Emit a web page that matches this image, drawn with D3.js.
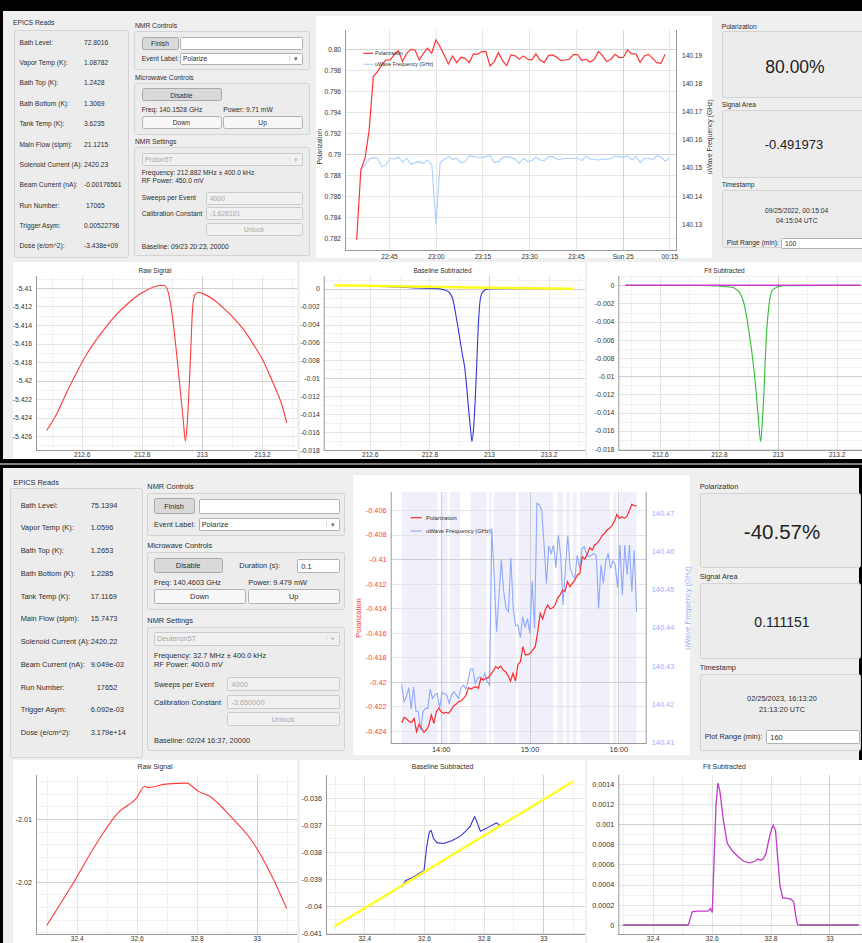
<!DOCTYPE html>
<html><head><meta charset="utf-8">
<script src="https://cdn.jsdelivr.net/npm/d3@7"></script>
<style>body{margin:0;background:#fff}svg{display:block}</style>
</head><body>
<svg id="c" width="862" height="943"></svg>
<script>
// ================= DATA =================
const epicsLabels=["Bath Level:","Vapor Temp (K):","Bath Top (K):","Bath Bottom (K):","Tank Temp (K):","Main Flow (slpm):","Solenoid Current (A):","Beam Current (nA):","Run Number:","Trigger Asym:","Dose (e/cm^2):"];
const epicsValuesA=["72.8016","1.08782","1.2428","1.3069","3.6235","21.1215","2420.23","-0.00176561","17065","0.00522796","-3.438e+09"];
const epicsValuesB=["75.1394","1.0596","1.2653","1.2285","17.1169","15.7473","2420.22","9.049e-03","17652","6.092e-03","3.179e+14"];

// --- top screenshot, polarization history ---
const polStartA="2022-09-24 22:34:37", freqStartA="2022-09-24 22:36:00", sampleSecA=80.3;
const polValuesA=[0.78184,0.78851,0.78962,0.79232,0.79740,0.79787,0.79851,0.79898,0.79898,0.79946,0.79987,0.79883,0.79962,0.80000,0.79994,0.79898,0.79962,0.80010,0.79962,0.80089,0.80025,0.79946,0.79860,0.79937,0.79873,0.79924,0.79914,0.79873,0.79956,0.79952,0.79978,0.79978,0.79841,0.79883,0.79968,0.79892,0.79844,0.79946,0.79937,0.79905,0.79937,0.79905,0.79898,0.79956,0.79898,0.79873,0.79940,0.79946,0.79924,0.79892,0.79898,0.79905,0.79949,0.79949,0.79892,0.79905,0.79879,0.79905,0.79978,0.79937,0.79883,0.79905,0.79952,0.79921,0.79924,0.79994,0.79956,0.79956,0.79873,0.79937,0.79952,0.79914,0.79873,0.79867,0.79952];
const freqValuesA=[140.14949,140.15103,140.15317,140.15365,140.15341,140.15044,140.15103,140.15341,140.15317,140.15377,140.15198,140.15341,140.15127,140.15187,140.15222,140.15163,140.15282,140.15103,140.12989,140.15187,140.15305,140.15400,140.15305,140.15341,140.15187,140.15222,140.15424,140.15400,140.15377,140.15365,140.15400,140.15436,140.15198,140.15222,140.15365,140.15400,140.15365,140.15305,140.15163,140.15341,140.15222,140.15258,140.15377,140.15282,140.15258,140.15400,140.15400,140.15305,140.15305,140.15341,140.15341,140.15341,140.15341,140.15258,140.15424,140.15305,140.15305,140.15282,140.15305,140.15305,140.15341,140.15424,140.15400,140.15365,140.15436,140.15282,140.15400,140.15187,140.15341,140.15341,140.15282,140.15436,140.15377,140.15246,140.15341];
const timeDomainA=["2022-09-24 22:30:52","2022-09-25 00:17:28"];
const timeTicksA=["2022-09-24 22:45:00","2022-09-24 23:00:00","2022-09-24 23:15:00","2022-09-24 23:30:00","2022-09-24 23:45:00","2022-09-25 00:00:00","2022-09-25 00:15:00"];
const timeTickLabelsA=["22:45","23:00","23:15","23:30","23:45","Sun 25","00:15"];
const polTicksA=[0.782,0.784,0.786,0.788,0.790,0.792,0.794,0.796,0.798,0.800];
const polTickLabelsA=["0.782","0.784","0.786","0.788","0.79","0.792","0.794","0.796","0.798","0.80"];
const freqTicksA=[140.13,140.14,140.15,140.16,140.17,140.18,140.19];

// --- bottom screenshot, polarization history ---
const polStartB="2023-02-25 13:33:38", sampleSecPolB=100.3;
const freqStartB="2023-02-25 13:33:38", sampleSecFreqB=96.2;
const polValuesB=[-0.42332,-0.42289,-0.42302,-0.42324,-0.42329,-0.42297,-0.42405,-0.42346,-0.42378,-0.42411,-0.42392,-0.42351,-0.42270,-0.42338,-0.42243,-0.42215,-0.42243,-0.42256,-0.42248,-0.42256,-0.42229,-0.42194,-0.42183,-0.42161,-0.42156,-0.42134,-0.42107,-0.42047,-0.42058,-0.42047,-0.42039,-0.42053,-0.41971,-0.41985,-0.41971,-0.41966,-0.41939,-0.41911,-0.41876,-0.41890,-0.41871,-0.41903,-0.41917,-0.41949,-0.41993,-0.41930,-0.41993,-0.41857,-0.41835,-0.41713,-0.41781,-0.41776,-0.41767,-0.41740,-0.41713,-0.41591,-0.41442,-0.41488,-0.41414,-0.41374,-0.41406,-0.41396,-0.41374,-0.41319,-0.41292,-0.41252,-0.41265,-0.41184,-0.41224,-0.41197,-0.41170,-0.41129,-0.41116,-0.40980,-0.40999,-0.40961,-0.40907,-0.40926,-0.40885,-0.40872,-0.40844,-0.40809,-0.40790,-0.40763,-0.40749,-0.40728,-0.40690,-0.40635,-0.40668,-0.40654,-0.40668,-0.40654,-0.40608,-0.40554,-0.40565,-0.40565];
const freqValuesB=[140.42508,140.42053,140.42184,140.42421,140.41860,140.42447,140.41808,140.41790,140.41309,140.41790,140.41878,140.41878,140.42386,140.42140,140.42228,140.42272,140.41878,140.42298,140.42272,140.42228,140.42009,140.42228,140.42316,140.42228,140.42140,140.42421,140.42491,140.42386,140.42622,140.42911,140.42911,140.42534,140.42666,140.42710,140.42622,140.42797,140.42596,140.42491,140.46606,140.45293,140.43892,140.44837,140.45774,140.44942,140.44505,140.44417,140.45835,140.44505,140.44049,140.44067,140.43734,140.44286,140.43997,140.44242,140.43848,140.45223,140.43979,140.47263,140.47219,140.47088,140.46168,140.45161,140.46142,140.45949,140.46168,140.45573,140.46431,140.45888,140.44592,140.45573,140.46413,140.45573,140.45380,140.45293,140.45905,140.45555,140.46081,140.46124,140.45905,140.45862,140.45905,140.45949,140.45888,140.44505,140.45643,140.45161,140.45730,140.45949,140.45555,140.45748,140.45643,140.45047,140.46168,140.44855,140.46168,140.45380,140.46168,140.44942,140.46037,140.44417];
const bandsB=[["13:33:38","13:57:40"],["14:00:00","14:04:30"],["14:06:20","14:13:00"],["14:20:20","14:31:00"],["14:32:50","14:34:25"],["14:36:00","14:50:50"],["14:52:30","15:16:05"],["15:18:50","15:22:50"],["15:24:40","15:27:25"],["15:29:10","15:31:50"],["15:34:10","15:54:25"],["15:56:40","15:58:55"],["16:00:40","16:12:24"]];
const timeDomainB=["2023-02-25 13:26:12","2023-02-25 16:19:12"];
const timeTicksB=["2023-02-25 14:00:00","2023-02-25 15:00:00","2023-02-25 16:00:00"];
const timeTickLabelsB=["14:00","15:00","16:00"];
const polTicksB=[-0.424,-0.422,-0.420,-0.418,-0.416,-0.414,-0.412,-0.410,-0.408,-0.406];
const polTickLabelsB=["-0.424","-0.422","-0.42","-0.418","-0.416","-0.414","-0.412","-0.41","-0.408","-0.406"];
const freqTicksB=[140.41,140.42,140.43,140.44,140.45,140.46,140.47];

// --- top screenshot NMR signals (MHz) ---
const rawFreqA=[212.4835,212.5167,212.55,212.5833,212.6165,212.6498,212.683,212.716,212.750,212.783,212.816,212.849,212.872,212.883,212.894,212.905,212.916,212.927,212.938,212.945,212.951,212.958,212.964,212.969,212.977,212.988,213.005,213.038,213.071,213.105,213.138,213.171,213.204,213.238,213.265,213.282];
const rawSigA=[-5.42539,-5.42360,-5.42128,-5.41913,-5.41716,-5.41555,-5.41412,-5.41286,-5.41179,-5.41090,-5.41025,-5.40979,-5.40971,-5.41000,-5.41143,-5.41394,-5.41716,-5.42074,-5.42432,-5.42654,-5.42468,-5.42038,-5.41573,-5.41215,-5.41072,-5.41047,-5.41064,-5.41125,-5.41215,-5.41322,-5.41448,-5.41609,-5.41788,-5.42038,-5.42253,-5.42457];
const blFreqA=[212.482,212.6,212.7508,212.829,212.8513,212.8681,212.8792,212.8904,212.9016,212.9105,212.9184,212.9262,212.9329,212.9385,212.9429,212.9485,212.9541,212.9597,212.9642,212.9687,212.9742,212.9832,212.9966,213.0189,213.282];
const blSigA=[0.00037,0.00030,0.00008,0,-0.000144,-0.000477,-0.001216,-0.003248,-0.005465,-0.007313,-0.008791,-0.011377,-0.013964,-0.01581,-0.01703,-0.015442,-0.012116,-0.007682,-0.003987,-0.00177,-0.000662,-0.000218,-0.00003,0,-0.00002];
const blFitFreqA=[212.482,212.882,213.282];
const blFitA=[0.00037,0.00015,-0.00002];
const fitFreqA=[212.482,212.75,212.8434,212.8603,212.8773,212.8886,212.8999,212.9113,212.9192,212.926,212.9316,212.9362,212.9418,212.9475,212.9531,212.9577,212.9622,212.9679,212.9735,212.9815,212.9962,213.0188,213.282];
const fitSigA=[0,-0.00002,-0.000222,-0.000477,-0.001206,-0.002481,-0.004667,-0.007217,-0.009402,-0.011588,-0.013774,-0.015596,-0.017162,-0.014867,-0.011588,-0.007945,-0.005031,-0.002845,-0.001388,-0.00055,-0.000222,-0.00004,0];
const fitResFreqA=[212.482,213.282];
const fitResA=[0,0];

// --- bottom screenshot NMR signals (MHz) ---
const rawFreqB=[32.3,32.383,32.466,32.539,32.600,32.626,32.640,32.695,32.769,32.778,32.806,32.843,32.916,32.990,33.045,33.1];
const rawSigB=[-2.02695,-2.02062,-2.01389,-2.00896,-2.00663,-2.00482,-2.00497,-2.00445,-2.00429,-2.00456,-2.0056,-2.00638,-2.00974,-2.01389,-2.01855,-2.02426];
const blFreqB=[32.525,32.538,32.562,32.590,32.600,32.609,32.618,32.624,32.632,32.643,32.665,32.693,32.722,32.740,32.755,32.763,32.770,32.778,32.789,32.806,32.825,32.843,32.856];
const blSigB=[-0.03931,-0.03907,-0.03895,-0.03875,-0.03871,-0.03781,-0.03726,-0.03721,-0.03751,-0.03766,-0.03769,-0.03759,-0.03742,-0.03723,-0.03706,-0.03685,-0.03670,-0.03690,-0.03724,-0.03715,-0.03703,-0.03693,-0.03703];
const blFitFreqB=[32.3,33.1];
const blFitB=[-0.04076,-0.0354];
const fitFreqB=[32.3,32.521,32.534,32.549,32.587,32.596,32.602,32.609,32.615,32.621,32.628,32.640,32.653,32.672,32.691,32.709,32.728,32.747,32.757,32.766,32.775,32.785,32.794,32.804,32.809,32.817,32.823,32.832,32.842,32.855,32.870,32.879,32.885,32.892,33.1];
const fitResB=[0,0,0.00013,0.000136,0.000136,0.000162,0.000123,0.000713,0.001199,0.00141,0.001329,0.001037,0.00081,0.000729,0.000674,0.000632,0.000616,0.000632,0.000655,0.000642,0.000655,0.000713,0.000843,0.000956,0.000989,0.00094,0.000713,0.000389,0.000266,0.000266,0.000253,0.000227,0.0000972,0,0];
// fit curve (flat, shown only in the wings; null = gap)
const fitLineFreqB=[32.3,32.52,32.53,32.89,32.9,33.1];
const fitLineB=[-0.000004,-0.000004,null,null,-0.000004,-0.000004];

// ================= DRAWING =================
const FF="'Liberation Sans',Arial,sans-serif";
const parse=d3.timeParse("%Y-%m-%d %H:%M:%S");
const svg=d3.select("#c");
let clipN=0;
function T(x,y,s,o){o=o||{};const t=svg.append("text").attr("x",x).attr("y",y).attr("font-family",FF)
  .attr("font-size",o.fs||7).attr("fill",o.fill||"#2e2e2e").attr("text-anchor",o.a||"start")
  .attr("dominant-baseline","central").text(s);if(o.rot!==undefined)t.attr("transform",`rotate(${o.rot},${x},${y})`);return t;}
function R(x0,y0,x1,y1,fill,stroke,rx){const r=svg.append("rect").attr("fill",fill).attr("rx",rx||0);
  if(stroke){r.attr("x",Math.round(x0)+0.5).attr("y",Math.round(y0)+0.5).attr("width",Math.round(x1-x0)).attr("height",Math.round(y1-y0)).attr("stroke",stroke);}
  else{r.attr("x",x0).attr("y",y0).attr("width",x1-x0).attr("height",y1-y0);}return r;}
function groupBox(x0,y0,x1,y1){R(x0,y0,x1,y1,"#ececec","#d3d3d3",2);}
function button(x0,y0,x1,y1,label,fs,kind){
  const st={dark:["#d9d9d9","#a9a9a9","#2e2e2e"],light:["#f7f7f7","#b3b3b3","#2e2e2e"],off:["#f1f1f1","#cbcbcb","#a9a9a9"]}[kind];
  R(x0,y0,x1,y1,st[0],st[1],2);T((x0+x1)/2,(y0+y1)/2+0.5,label,{fs:fs,a:"middle",fill:st[2]});}
function input(x0,y0,x1,y1,text,fs,off){R(x0,y0,x1,y1,off?"#f0f0f0":"#ffffff",off?"#cbcbcb":"#b1b1b1",1);
  if(text)T(x0+4,(y0+y1)/2+0.5,text,{fs:fs,fill:off?"#a8a8a8":"#2e2e2e"});}
function combo(x0,y0,x1,y1,text,fs,off){R(x0,y0,x1,y1,off?"#f0f0f0":"#ffffff",off?"#cbcbcb":"#b1b1b1",1);
  T(x0+3,(y0+y1)/2+0.5,text,{fs:fs,fill:off?"#a8a8a8":"#2e2e2e"});
  svg.append("line").attr("x1",x1-12.5).attr("x2",x1-12.5).attr("y1",y0+3).attr("y2",y1-3).attr("stroke",off?"#e0e0e0":"#d6d6d6");
  T(x1-6,(y0+y1)/2+0.5,"▾",{fs:fs,a:"middle",fill:off?"#c0c0c0":"#666"});}

function clipG(x0,y0,x1,y1){const id="cl"+(clipN++);
  svg.append("clipPath").attr("id",id).append("rect").attr("x",x0).attr("y",y0).attr("width",x1-x0).attr("height",y1-y0);
  return svg.append("g").attr("clip-path",`url(#${id})`);}
function hLines(g,y,vals,x0,x1,c){g.selectAll(null).data(vals).join("line").attr("x1",x0).attr("x2",x1)
  .attr("y1",d=>Math.round(y(d))+0.5).attr("y2",d=>Math.round(y(d))+0.5).attr("stroke",c);}
function vLines(g,x,vals,y0,y1,c){g.selectAll(null).data(vals).join("line").attr("y1",y0).attr("y2",y1)
  .attr("x1",d=>Math.round(x(d))+0.5).attr("x2",d=>Math.round(x(d))+0.5).attr("stroke",c);}
function stepVals(dom,step){const lo=Math.min(dom[0],dom[1]),hi=Math.max(dom[0],dom[1]);const out=[];
  for(let k=Math.ceil(lo/step-1e-9);k*step<=hi+1e-12;k++)out.push(+(k*step).toFixed(10));return out;}
function axisLeft(x,y,vals,labels,fs,col){const g=svg.append("g").attr("transform",`translate(${x},0)`)
  .call(d3.axisLeft(y).tickValues(vals).tickFormat((d,i)=>labels[i]).tickSize(0).tickPadding(4));
  g.select(".domain").remove();g.selectAll("text").attr("font-family",FF).attr("font-size",fs).attr("fill",col||"#333");return g;}
function axisRight(x,y,vals,labels,fs,col){const g=svg.append("g").attr("transform",`translate(${x},0)`)
  .call(d3.axisRight(y).tickValues(vals).tickFormat((d,i)=>labels[i]).tickSize(0).tickPadding(5));
  g.select(".domain").remove();g.selectAll("text").attr("font-family",FF).attr("font-size",fs).attr("fill",col||"#333");return g;}
function axisBottom(y,x,vals,labels,fs,col){const g=svg.append("g").attr("transform",`translate(0,${y})`)
  .call(d3.axisBottom(x).tickValues(vals).tickFormat((d,i)=>labels[i]).tickSize(0).tickPadding(3));
  g.select(".domain").remove();g.selectAll("text").attr("font-family",FF).attr("font-size",fs).attr("fill",col||"#333");return g;}
function axLine(x1,y1,x2,y2){svg.append("line").attr("x1",x1).attr("y1",y1).attr("x2",x2).attr("y2",y2).attr("stroke","#9a9a9a").attr("stroke-width",1);}

// ---------- frame / backgrounds ----------
R(0,0,862,943,"#000");
R(3,11,862,459,"#efefef");
R(3,468,859,943,"#efefef");
R(0,463.5,862,464.5,"#ffffff");

// ---------- TOP screenshot UI ----------
const fa=6.7;
T(13,22.5,"EPICS Reads",{fs:fa});
groupBox(14,30,128,257);
epicsLabels.forEach((l,i)=>{const cy=42.3+20.34*i;T(19.5,cy,l,{fs:fa});
  T(i===8?86:84,cy,epicsValuesA[i],{fs:fa});});

T(135,25.5,"NMR Controls",{fs:fa});
groupBox(134,31,309,69);
button(142,37,178,48.5,"Finish",fa,"dark");
input(180,37,302,49,"",fa);
T(141.7,58.3,"Event Label:",{fs:fa});
combo(180,52.7,302,64,"Polarize",fa);
T(135,77.3,"Microwave Controls",{fs:fa});
groupBox(134,83,309,134);
button(142,88.3,220.7,100.7,"Disable",fa,"dark");
T(141.7,109,"Freq: 140.1528 GHz",{fs:fa});T(223.3,109,"Power: 9.71 mW",{fs:fa});
button(142,116,220.7,128.3,"Down",fa,"light");
button(223.3,116,302,128.3,"Up",fa,"light");
T(135,141.7,"NMR Settings",{fs:fa});
groupBox(134,147.3,309,255.7);
combo(142,152.7,302,164.3,"Proton5T",fa,true);
T(141.7,172.3,"Frequency: 212.882 MHz ± 400.0 kHz",{fs:fa});
T(141.7,180.7,"RF Power: 450.0 mV",{fs:fa});
T(141.7,197.7,"Sweeps per Event",{fs:fa});input(206,191.7,302,204,"4000",fa,true);
T(141.7,213.3,"Calibration Constant",{fs:fa});input(206,207.3,302,219.3,"-1.626101",fa,true);
button(206,222.7,302,234.3,"Unlock",fa,"off");
T(141.7,246,"Baseline: 09/23 20:23, 20000",{fs:fa});

T(721.7,26,"Polarization",{fs:fa});
groupBox(721.7,30.7,866,96.7);
T(795,66.7,"80.00%",{fs:17.5,a:"middle",fill:"#222"});
T(721.7,104.3,"Signal Area",{fs:fa});
groupBox(721.7,110,866,176.7);
T(794,144.3,"-0.491973",{fs:13,a:"middle",fill:"#222"});
T(721.7,184,"Timestamp",{fs:fa});
groupBox(721.7,190,866,246.7);
T(796.7,210,"09/25/2022, 00:15:04",{fs:fa,a:"middle"});
T(796.7,220,"04:15:04 UTC",{fs:fa,a:"middle"});
T(726.7,242.3,"Plot Range (min):",{fs:fa});
input(781,237.7,866,247.3,"100",fa);

// ---------- TOP polarization chart ----------
R(316,16,712,258,"#ffffff");
{
  const x=d3.scaleTime().domain(timeDomainA.map(parse)).range([345,677]);
  const yP=d3.scaleLinear().domain([0.78086,0.80184]).range([250,30]);
  const yF=d3.scaleLinear().domain([140.1207,140.19916]).range([250,30]);
  const g=clipG(345,30,677,250);
  hLines(g,yP,polTicksA,345,677,"#e6e6e6");
  hLines(g,yP,[0.79,0.80],345,677,"#d4d4d4");
  vLines(g,x,timeTicksA.map(parse),30,250,"#e6e6e6");
  vLines(g,x,[parse("2022-09-25 00:00:00")],30,250,"#d4d4d4");
  const t0=parse(polStartA).getTime(),t1=parse(freqStartA).getTime();
  const fpts=freqValuesA.map((v,i)=>[new Date(t1+i*sampleSecA*1000),v]);
  const ppts=polValuesA.map((v,i)=>[new Date(t0+i*sampleSecA*1000),v]);
  g.append("path").attr("d",d3.line().x(d=>x(d[0])).y(d=>yF(d[1]))(fpts)).attr("fill","none").attr("stroke","#a8d0ff").attr("stroke-width",1.1);
  g.append("path").attr("d",d3.line().x(d=>x(d[0])).y(d=>yP(d[1]))(ppts)).attr("fill","none").attr("stroke","#ff3434").attr("stroke-width",1.2);
  axLine(345.5,30,345.5,250.5);axLine(676.5,30,676.5,250.5);axLine(345,250.5,677,250.5);
  axisLeft(345,yP,polTicksA,polTickLabelsA,6.6);
  axisRight(677,yF,freqTicksA,freqTicksA.map(d=>d.toFixed(2)),6.6);
  axisBottom(251,x,timeTicksA.map(parse),timeTickLabelsA,6.6);
  T(320,146.7,"Polarization",{fs:6.8,a:"middle",rot:-90});
  T(710,136.7,"uWave Frequency (GHz)",{fs:6.8,a:"middle",rot:-90});
  svg.append("line").attr("x1",363.3).attr("x2",373.3).attr("y1",53.3).attr("y2",53.3).attr("stroke","#ff3434").attr("stroke-width",1.2);
  T(375,53.3,"Polarization",{fs:5.3});
  svg.append("line").attr("x1",363.3).attr("x2",373.3).attr("y1",64.3).attr("y2",64.3).attr("stroke","#a8d0ff").attr("stroke-width",1.1);
  T(375,64.3,"uWave Frequency (GHz)",{fs:5.3});
}

// ---------- signal chart helper ----------
function sigChart(c){
  R(c.px0,c.py0,c.px1,c.py1,"#ffffff");
  T((c.px0+c.px1)/2,c.titleY,c.title,{fs:c.tfs,a:"middle"});
  const x=d3.scaleLinear().domain(c.xd).range([c.x0,c.x1]);
  const y=d3.scaleLinear().domain(c.yd).range([c.y1,c.y0]);
  const right=Math.min(c.x1,c.px1);
  const g=clipG(c.x0,c.y0,right,c.y1);
  hLines(g,y,stepVals(c.yd,c.yMinor),c.x0,right,"#f1f1f1");
  vLines(g,x,stepVals(c.xd,0.1),c.y0,c.y1,"#f1f1f1");
  hLines(g,y,c.yTicks,c.x0,right,"#e4e4e4");
  vLines(g,x,c.xTicks,c.y0,c.y1,"#e4e4e4");
  if(c.yMajor)hLines(g,y,c.yMajor,c.x0,right,"#d0d0d0");
  if(c.xMajor)vLines(g,x,c.xMajor,c.y0,c.y1,"#d0d0d0");
  c.series.forEach(s=>{const pts=s.f.map((f,i)=>[f,s.v[i]]);
    g.append("path").attr("d",d3.line().defined(d=>d[1]!==null).curve(s.curve||d3.curveLinear).x(d=>x(d[0])).y(d=>y(d[1]))(pts))
     .attr("fill","none").attr("stroke",s.color).attr("stroke-width",s.w||1.1);});
  axLine(c.x0+0.5,c.y0,c.x0+0.5,c.y1+0.5);axLine(c.x0,c.y1+0.5,right,c.y1+0.5);
  axisLeft(c.x0,y,c.yTicks,c.yLabels,c.fs);
  const xg=clipG(c.px0,c.y1,c.px1,c.py1);
  xg.append("g").attr("transform",`translate(0,${c.y1+1.5})`)
    .call(d3.axisBottom(x).tickValues(c.xTicks).tickFormat((d,i)=>c.xLabels[i]).tickSize(0).tickPadding(0.5))
    .call(a=>{a.select(".domain").remove();a.selectAll("text").attr("font-family",FF).attr("font-size",c.xfs||c.fs).attr("fill","#333");});
}
const mhzTicksA=[212.6,212.8,213.0,213.2], mhzLabelsA=["212.6","212.8","213","213.2"];
const mhzTicksB=[32.4,32.6,32.8,33.0], mhzLabelsB=["32.4","32.6","32.8","33"];
const mono=d3.curveMonotoneX;

sigChart({px0:13,py0:262,px1:297,py1:459,title:"Raw Signal",titleY:270,tfs:6.5,fs:6.8,xfs:6.5,
  x0:36,x1:297,y0:276,y1:450,xd:[212.448,213.3162],yd:[-5.4275,-5.40871],yMinor:0.001,
  yTicks:[-5.426,-5.424,-5.422,-5.42,-5.418,-5.416,-5.414,-5.412,-5.41],
  yLabels:["-5.426","-5.424","-5.422","-5.42","-5.418","-5.416","-5.414","-5.412","-5.41"],yMajor:[-5.42,-5.41],
  xTicks:mhzTicksA,xLabels:mhzLabelsA,xMajor:[213],
  series:[{f:rawFreqA,v:rawSigA,color:"#ff3a3a",curve:mono}]});
const blTicksA=[-0.018,-0.016,-0.014,-0.012,-0.01,-0.008,-0.006,-0.004,-0.002,0];
const blLabelsA=["-0.018","-0.016","-0.014","-0.012","-0.01","-0.008","-0.006","-0.004","-0.002","0"];
sigChart({px0:300,py0:262,px1:585,py1:459,title:"Baseline Subtracted",titleY:270,tfs:6.5,fs:6.8,xfs:6.5,
  x0:323.7,x1:585,y0:276,y1:450,xd:[212.4458,213.3217],yd:[-0.017991,0.001408],yMinor:0.001,
  yTicks:blTicksA,yLabels:blLabelsA,yMajor:[0,-0.01],xTicks:mhzTicksA,xLabels:mhzLabelsA,xMajor:[213],
  series:[{f:blFreqA,v:blSigA,color:"#3333d6",curve:mono},{f:blFitFreqA,v:blFitA,color:"#ffff1e",w:2.4}]});
sigChart({px0:587,py0:262,px1:862,py1:459,title:"Fit Subtracted",titleY:270,tfs:6.5,fs:6.8,xfs:6.5,
  x0:618.3,x1:873,y0:276,y1:450,xd:[212.4584,213.3232],yd:[-0.01811,0.001016],yMinor:0.001,
  yTicks:blTicksA,yLabels:blLabelsA,yMajor:[0,-0.01],xTicks:mhzTicksA,xLabels:mhzLabelsA,xMajor:[213],
  series:[{f:fitFreqA,v:fitSigA,color:"#33bb33",curve:mono},{f:fitResFreqA,v:fitResA,color:"#cc3acc",w:1.3}]});

// ---------- BOTTOM screenshot UI ----------
const fb=7.4;
T(13.3,482.3,"EPICS Reads",{fs:fb});
groupBox(10,487.7,141.7,757);
epicsLabels.forEach((l,i)=>{const cy=505+22.77*i;T(20.7,cy,l,{fs:fb});
  T(i===8?96.7:90.7,cy,epicsValuesB[i],{fs:fb});});

T(147.3,486.7,"NMR Controls",{fs:fb});
groupBox(147.3,493.3,344,535);
button(154,498.3,194,513.3,"Finish",fb,"dark");
input(198.7,499,339,513.3,"",fb);
T(154,524.3,"Event Label:",{fs:fb});
combo(198.7,518.3,339,530,"Polarize",fb);
T(147.3,545.7,"Microwave Controls",{fs:fb});
groupBox(147.3,552.3,344,609);
button(154,558.3,222.3,572.3,"Disable",fb,"dark");
T(239.3,565,"Duration (s):",{fs:fb});
input(297.3,559,339,572.3,"0.1",fb);
T(154,582.3,"Freq: 140.4603 GHz",{fs:fb});T(248.3,582.3,"Power: 9.479 mW",{fs:fb});
button(154,589.3,245,603.3,"Down",fb,"light");
button(248.3,589.3,339,603.3,"Up",fb,"light");
T(147.3,620,"NMR Settings",{fs:fb});
groupBox(147.3,626.7,344,750);
combo(154,631.7,339,645,"Deuteron5T",fb,true);
T(154,655,"Frequency: 32.7 MHz ± 400.0 kHz",{fs:fb});
T(154,664.3,"RF Power: 400.0 mV",{fs:fb});
T(154,684,"Sweeps per Event",{fs:fb});input(227.3,677.3,339,690.7,"4000",fb,true);
T(154,702,"Calibration Constant",{fs:fb});input(227.3,695,339,708.3,"-3.650000",fb,true);
button(227.3,712.3,339,725.7,"Unlock",fb,"off");
T(154,740,"Baseline: 02/24 16:37, 20000",{fs:fb});

T(699.7,486.7,"Polarization",{fs:fb});
groupBox(700,493.3,859.7,567.7);
T(782,531.7,"-40.57%",{fs:20.5,a:"middle",fill:"#222"});
T(699.7,576.7,"Signal Area",{fs:fb});
groupBox(700,583.3,859.7,658.3);
T(782,621.7,"0.111151",{fs:14,a:"middle",fill:"#222"});
T(699.7,667.7,"Timestamp",{fs:fb});
groupBox(700,674.3,859.7,750);
T(782,698.3,"02/25/2023, 16:13:20",{fs:fb,a:"middle"});
T(782,709.3,"21:13:20 UTC",{fs:fb,a:"middle"});
T(704.7,736.7,"Plot Range (min):",{fs:fb});
input(766.3,730,859.3,743.3,"160",fb);

// ---------- BOTTOM polarization chart ----------
R(353,475,690,755,"#ffffff");
{
  const x=d3.scaleTime().domain(timeDomainB.map(parse)).range([390.7,646.7]);
  const yP=d3.scaleLinear().domain([-0.42498,-0.40453]).range([743,492]);
  const yF=d3.scaleLinear().domain([140.4097,140.4756]).range([743,492]);
  const g=clipG(390.7,492,646.7,743);
  const day="2023-02-25 ";
  g.selectAll(null).data(bandsB).join("rect")
    .attr("x",d=>x(parse(day+d[0]))).attr("width",d=>x(parse(day+d[1]))-x(parse(day+d[0])))
    .attr("y",492).attr("height",251).attr("fill","#f0f0fa");
  hLines(g,yP,polTicksB,390.7,646.7,"#e4e4ea");
  hLines(g,yP,[-0.42,-0.41],390.7,646.7,"#cfcfd6");
  vLines(g,x,timeTicksB.map(parse),492,743,"#cfcfd6");
  const t0=parse(polStartB).getTime(),t1=parse(freqStartB).getTime();
  const fpts=freqValuesB.map((v,i)=>[new Date(t1+i*sampleSecFreqB*1000),v]);
  const ppts=polValuesB.map((v,i)=>[new Date(t0+i*sampleSecPolB*1000),v]);
  g.append("path").attr("d",d3.line().x(d=>x(d[0])).y(d=>yF(d[1]))(fpts)).attr("fill","none").attr("stroke","#8ea9ff").attr("stroke-width",1.1);
  g.append("path").attr("d",d3.line().x(d=>x(d[0])).y(d=>yP(d[1]))(ppts)).attr("fill","none").attr("stroke","#ff2a2a").attr("stroke-width",1.2);
  axLine(391.2,492,391.2,743.5);axLine(646.2,492,646.2,743.5);axLine(390.7,743.5,646.7,743.5);
  axisLeft(390.7,yP,polTicksB,polTickLabelsB,7.4,"#ff4040");
  axisRight(646.7,yF,freqTicksB,freqTicksB.map(d=>d.toFixed(2)),7.4,"#9aaeff");
  axisBottom(744,x,timeTicksB.map(parse),timeTickLabelsB,7.4);
  T(358,618,"Polarization",{fs:7.6,a:"middle",rot:-90,fill:"#ff4040"});
  T(687,608,"uWave Frequency (GHz)",{fs:7.6,a:"middle",rot:-90,fill:"#9aaeff"});
  svg.append("line").attr("x1",410.7).attr("x2",421.7).attr("y1",517.7).attr("y2",517.7).attr("stroke","#ff2a2a").attr("stroke-width",1.2);
  T(426,517.7,"Polarization",{fs:5.9});
  svg.append("line").attr("x1",410.7).attr("x2",421.7).attr("y1",531).attr("y2",531).attr("stroke","#8ea9ff").attr("stroke-width",1.1);
  T(426,531,"uWave Frequency (GHz)",{fs:5.9});
}

// ---------- BOTTOM signal charts ----------
sigChart({px0:13,py0:760,px1:297,py1:943,title:"Raw Signal",titleY:766.5,tfs:6.9,fs:7.2,xfs:6.6,
  x0:36,x1:297,y0:775,y1:934,xd:[32.2643,33.1343],yd:[-2.0283,-2.0030],yMinor:0.002,
  yTicks:[-2.02,-2.01],yLabels:["-2.02","-2.01"],yMajor:[-2.02,-2.01],
  xTicks:mhzTicksB,xLabels:mhzLabelsB,xMajor:[33],
  series:[{f:rawFreqB,v:rawSigB,color:"#ff3a3a",curve:mono}]});
sigChart({px0:300,py0:760,px1:585,py1:943,title:"Baseline Subtracted",titleY:766.5,tfs:6.9,fs:7.2,xfs:6.6,
  x0:326,x1:585,y0:775,y1:934,xd:[32.2715,33.1398],yd:[-0.041038,-0.035158],yMinor:0.0005,
  yTicks:[-0.041,-0.04,-0.039,-0.038,-0.037,-0.036],yLabels:["-0.041","-0.04","-0.039","-0.038","-0.037","-0.036"],yMajor:[-0.04],
  xTicks:mhzTicksB,xLabels:mhzLabelsB,xMajor:[33],
  series:[{f:blFreqB,v:blSigB,color:"#3333d6"},{f:blFitFreqB,v:blFitB,color:"#ffff1e",w:2.2}]});
sigChart({px0:587,py0:760,px1:862,py1:943,title:"Fit Subtracted",titleY:766.5,tfs:6.9,fs:7.2,xfs:6.6,
  x0:618.3,x1:873,y0:775,y1:934,xd:[32.283,33.148],yd:[-0.0000914,0.00149],yMinor:0.0001,
  yTicks:[0,0.0002,0.0004,0.0006,0.0008,0.001,0.0012,0.0014],yLabels:["0","0.0002","0.0004","0.0006","0.0008","0.001","0.0012","0.0014"],yMajor:[0,0.001],
  xTicks:mhzTicksB,xLabels:mhzLabelsB,xMajor:[33],
  series:[{f:fitLineFreqB,v:fitLineB,color:"#2f9a2f"},{f:fitFreqB,v:fitResB,color:"#c23ac8",w:1.3}]});
</script>
</body></html>
